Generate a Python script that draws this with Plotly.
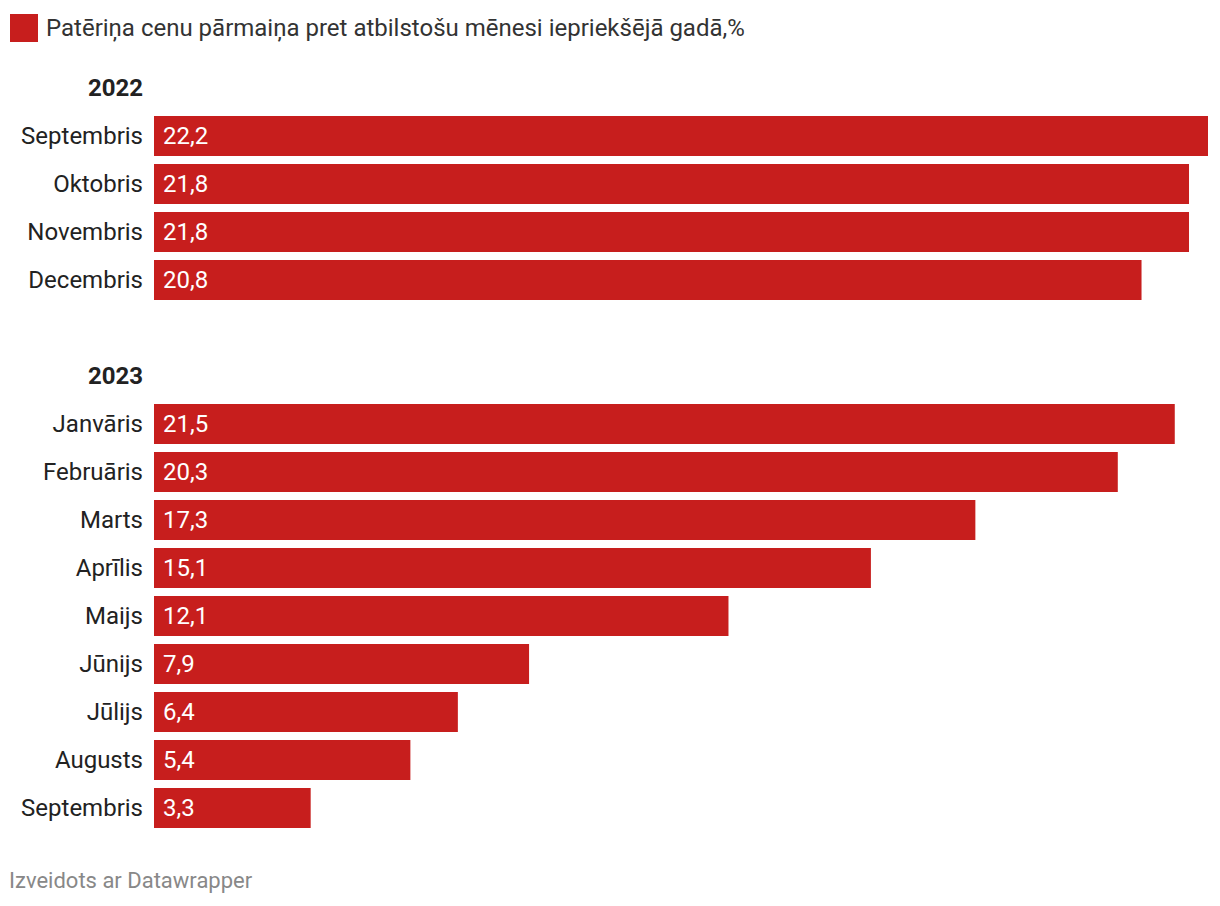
import plotly.graph_objects as go

years = ["2022", "2023"]
months_2022 = ["Septembris", "Oktobris", "Novembris", "Decembris"]
values_2022 = [22.2, 21.8, 21.8, 20.8]
months_2023 = ["Janvāris", "Februāris", "Marts", "Aprīlis", "Maijs", "Jūnijs", "Jūlijs", "Augusts", "Septembris"]
values_2023 = [21.5, 20.3, 17.3, 15.1, 12.1, 7.9, 6.4, 5.4, 3.3]

legend_label = "Patēriņa cenu pārmaiņa pret atbilstošu mēnesi iepriekšējā gadā,%"
footer = "Izveidots ar Datawrapper"

RED = "#c71e1d"
FONT = "Roboto"
FS = 24

tickvals, ticktext = [], []
bar_y, bar_x = [], []
row = 0
groups = [(years[0], months_2022, values_2022), (years[1], months_2023, values_2023)]
for gi, (yr, months, vals) in enumerate(groups):
    if gi > 0:
        row += 1  # blank spacer row
    tickvals.append(row)
    ticktext.append(f"<b>{yr}</b>")
    row += 1
    for m, v in zip(months, vals):
        tickvals.append(row)
        ticktext.append(m)
        bar_y.append(row)
        bar_x.append(v)
        row += 1
n_rows = row

W, H = 1220, 906
ML, MR, MT, MB = 154, 12, 64, 74
plot_w = W - ML - MR
plot_h = H - MT - MB

def px_to_paper(xp, yp):
    return (xp - ML) / plot_w, (H - MB - yp) / plot_h

fig = go.Figure()
fig.add_trace(go.Bar(
    x=bar_x, y=bar_y, orientation="h",
    marker=dict(color=RED, line=dict(width=0)),
    width=40 / 48,
    hoverinfo="skip",
    showlegend=False,
))

annotations = []
for y, v in zip(bar_y, bar_x):
    annotations.append(dict(
        x=0, y=y, xref="x", yref="y", xanchor="left", yanchor="middle",
        xshift=7, text=f"{v:.1f}".replace(".", ","), showarrow=False,
        font=dict(family=FONT, size=FS, color="white"),
    ))

lx, ly = px_to_paper(44, 28)
annotations.append(dict(
    x=lx, y=ly, xref="paper", yref="paper", showarrow=False,
    text=legend_label, xanchor="left", yanchor="middle",
    font=dict(family=FONT, size=FS, color="#333333"),
))
fx, fy = px_to_paper(7, 880)
annotations.append(dict(
    x=fx, y=fy, xref="paper", yref="paper", showarrow=False,
    text=footer, xanchor="left", yanchor="middle",
    font=dict(family=FONT, size=22, color="#888888"),
))

x0, y0 = px_to_paper(10, 42)
x1, y1 = px_to_paper(38, 14)
fig.add_shape(type="rect", xref="paper", yref="paper", x0=x0, x1=x1, y0=y0, y1=y1,
              fillcolor=RED, line=dict(width=0))

fig.update_layout(
    width=W, height=H,
    margin=dict(l=ML, r=MR, t=MT, b=MB, pad=0),
    paper_bgcolor="white", plot_bgcolor="white",
    font=dict(family=FONT, size=FS, color="#222222"),
    xaxis=dict(range=[0, 22.2], visible=False, fixedrange=True),
    yaxis=dict(range=[n_rows - 0.5, -0.5], tickvals=tickvals, ticktext=ticktext,
               showgrid=False, zeroline=False, showline=False, ticks="", fixedrange=True,
               ticklabelstandoff=10, tickfont=dict(family=FONT, size=FS, color="#222222")),
    showlegend=False,
    annotations=annotations,
)

fig.write_html("out.html", config={"displayModeBar": False},
               post_script="document.body.style.margin='0';document.body.style.overflow='hidden';")
